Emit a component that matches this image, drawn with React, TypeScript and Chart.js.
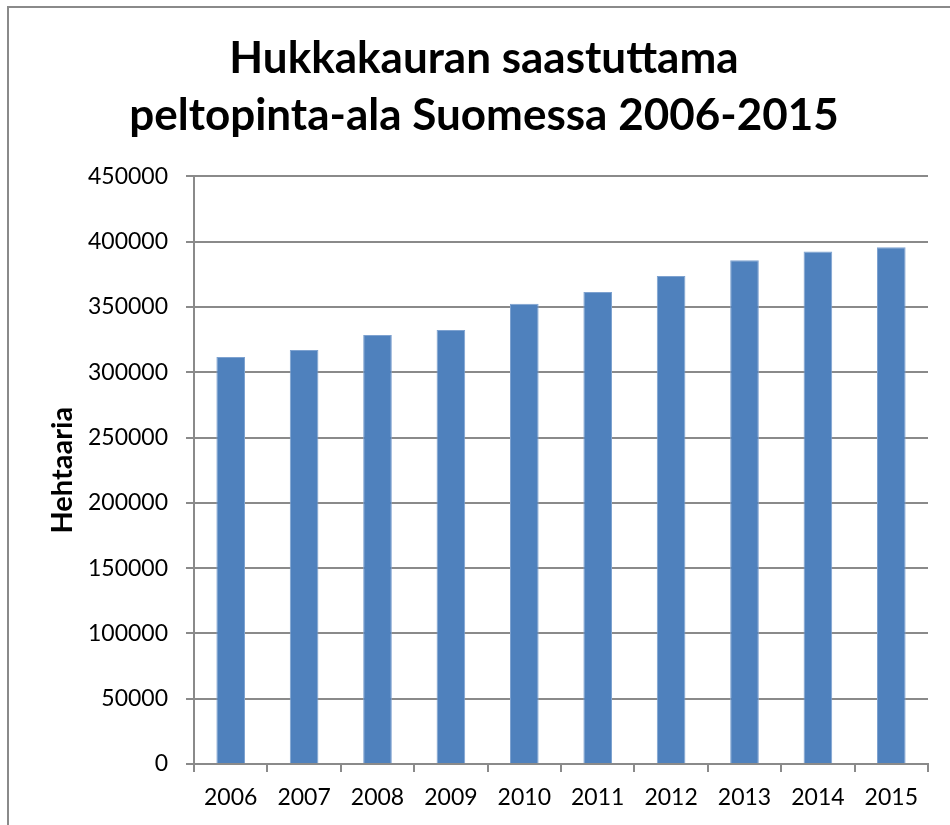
import React, { useEffect, useRef } from "react";
import { Chart, registerables } from "chart.js";

Chart.register(...registerables);

const years = ["2006", "2007", "2008", "2009", "2010", "2011", "2012", "2013", "2014", "2015"];
const hectares = [311700, 317100, 328600, 332400, 352500, 361500, 373700, 385800, 392400, 395700];
const titleLines = ["Hukkakauran saastuttama", "peltopinta-ala Suomessa 2006-2015"];
const yAxisTitle = "Hehtaaria";
const yMin = 0;
const yMax = 450000;
const yStep = 50000;

const GRID = "#8a8a8a";
const FONT = "Lato, 'Open Sans', sans-serif";

export default function App() {
  const ref = useRef<HTMLCanvasElement | null>(null);

  useEffect(() => {
    if (!ref.current) return;
    const chart = new Chart(ref.current, {
      type: "bar",
      data: {
        labels: years,
        datasets: [
          {
            data: hectares,
            backgroundColor: "#4F81BD",
            borderColor: "#7ea2d0",
            borderWidth: 1,
            barPercentage: 0.39,
            categoryPercentage: 1,
          },
        ],
      },
      options: {
        responsive: false,
        animation: false,
        layout: { padding: { left: 40, right: 22, top: 0, bottom: 0 } },
        plugins: {
          legend: { display: false },
          tooltip: { enabled: false },
          title: {
            display: true,
            text: titleLines,
            color: "#000",
            font: { family: FONT, size: 44, weight: "bold", lineHeight: 1.3 },
            padding: { top: 30, bottom: 32 },
          },
        },
        scales: {
          x: {
            offset: true,
            grid: {
              display: true,
              drawOnChartArea: false,
              drawTicks: true,
              tickLength: 8,
              color: GRID,
              lineWidth: 2,
              offset: true,
            },
            border: { display: true, color: GRID, width: 2 },
            ticks: {
              color: "#000",
              font: { family: FONT, size: 23 },
              padding: 12,
              maxRotation: 0,
            },
            afterFit: (scale: any) => {
              scale.height = 61;
            },
          },
          y: {
            min: yMin,
            max: yMax,
            grid: { color: GRID, lineWidth: 2, tickLength: 8, drawTicks: true },
            border: { display: true, color: GRID, width: 2 },
            ticks: {
              stepSize: yStep,
              color: "#000",
              font: { family: FONT, size: 23 },
              padding: 18,
              callback: (v: any) => String(v),
            },
            title: {
              display: true,
              text: yAxisTitle,
              color: "#000",
              font: { family: FONT, size: 29, weight: "bold" },
              padding: { top: 5, bottom: 0 },
            },
            afterFit: (scale: any) => {
              scale.width = 154;
            },
          },
        },
      },
    });
    return () => chart.destroy();
  }, []);

  return (
    <div style={{ position: "absolute", left: 0, top: 0, width: 950, height: 825, overflow: "hidden", background: "#fff" }}>
      <div
        style={{
          position: "absolute",
          left: 7,
          top: 6,
          width: 960,
          height: 840,
          borderLeft: "2px solid #8a8a8a",
          borderTop: "2px solid #8a8a8a",
          boxSizing: "border-box",
        }}
      />
      <canvas ref={ref} width={950} height={825} style={{ position: "absolute", left: 0, top: 0, display: "block" }} />
    </div>
  );
}
